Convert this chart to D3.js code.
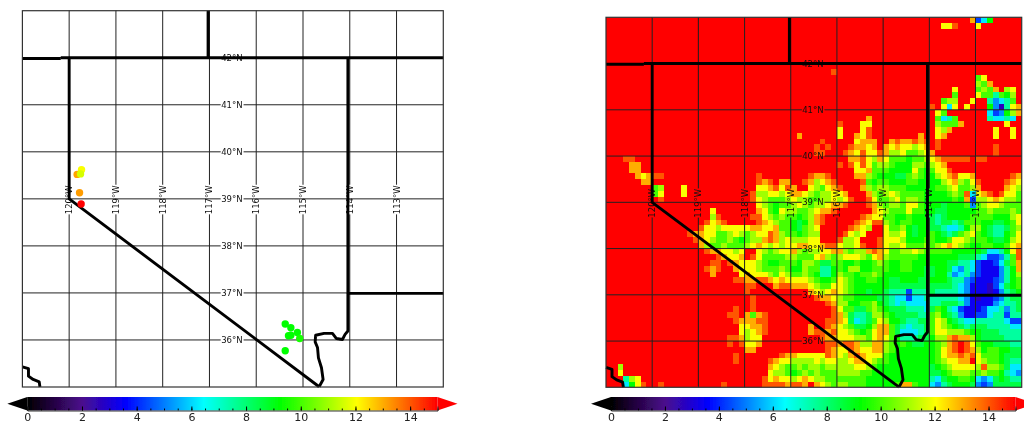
<!DOCTYPE html>
<html>
    <head>
        <meta charset="utf-8">
        <title>Nevada maps</title>
        <script src="https://d3js.org/d3.v7.min.js"></script>
        <style>
            body{ margin: 0; background: #fff; }
            text{ font-family: "DejaVu Sans", sans-serif; }
            .grid{ fill: none; stroke: #222; stroke-width: 1px; }
            .border{ fill: none; stroke: #000; stroke-width: 2.9px; stroke-linejoin: round; }
            .frame{ fill: none; stroke: #333; stroke-width: 1.2px; }
            .maplabel{ font-size: 8.5px; fill: #111; text-anchor: middle; dominant-baseline: central; }
            .cbar text{ font-size: 11px; fill: #222; }
        </style>
    </head>
    <body>
        <script>
            // tick lists
            const lonTicks = [-120, -119, -118, -117, -116, -115, -114, -113];
            const latTicks = [36, 37, 38, 39, 40, 41, 42];
            const cbarTicks = [0, 2, 4, 6, 8, 10, 12, 14];
            const cbarMinor = d3.range(0, 15.5, 0.5);

            // colorbar stops
            const colorStops = [0, 2, 3.6, 6.45, 9.25, 12.05, 15];
            const colorValues = ["#000000", "#4b0a8c", "#0000ff", "#00ffff", "#00ff00", "#ffff00", "#ff0000"];

            // station points of the left map
            const stationLon = [-119.83, -119.736, -119.757, -119.778, -119.744, -115.38, -115.26, -115.12, -115.26, -115.31, -115.07, -115.38];
            const stationLat = [39.52, 39.62, 39.53, 39.13, 38.89, 36.34, 36.26, 36.16, 36.10, 36.09, 36.03, 35.77];
            const stationVal = [13.1, 12.0, 11.6, 13.2, 15, 9.3, 9.3, 9.3, 9.3, 9.3, 9.5, 9.3];

            // state lines and coast, [lon, lat]
            const lineOrCa = [[-121, 41.985], [-120.18, 41.985]];
            const lineNorth = [[-120.18, 42], [-112, 42]];
            const lineOrId = [[-117.03, 43], [-117.03, 42]];
            const lineUtAz = [[-114.04, 36.99], [-112, 36.99]];
            const lineNvEast = [[-114.04, 42], [-114.04, 36.19], [-114.1, 36.12], [-114.157, 36.01], [-114.285, 36.03],
                [-114.37, 36.14], [-114.55, 36.14], [-114.73, 36.1], [-114.74, 35.96], [-114.69, 35.84], [-114.67, 35.62],
                [-114.605, 35.41], [-114.57, 35.16], [-114.655, 35.005]];
            const lineNvWest = [[-120, 42], [-120, 39], [-114.655, 35.005]];
            const lineCoast = [[-121, 35.43], [-120.87, 35.39], [-120.87, 35.23], [-120.77, 35.16], [-120.64, 35.11], [-120.625, 35]];
            const borderLines = [lineOrCa, lineNorth, lineOrId, lineUtAz, lineNvEast, lineNvWest, lineCoast];

            // what each hex digit in rasterRows stands for
            const rasterLevels = [0, 1, 2.7, 3.4, 4.3, 5.2, 6.2, 7.5, 8.5, 9.25, 10, 11, 12, 13, 14, 15];

            // raster of the right map, 1/8 degree cells, 64 rows from 43N, 72 cols from 121W.
            // each row: "startCol:digits", one digit per cell, anything not listed is F
            const rasterRows = [
                "63:D469",
                "58:CCE 64:C",
                "", "", "", "", "", "", "",
                "39:E",
                "64:AC",
                "64:BAD",
                "60:C 64:ABAD 69:BC",
                "60:A 64:CAA7A9B",
                "58:ABB 63:C 66:7567A",
                "56:E 58:C6C 62:C 66:9527CD",
                "57:CA 66:6459BD",
                "45:D 57:A67A 66:76676",
                "40:E 44:CC 57:BAAAD 69:C",
                "40:C 44:CE 57:CBD 67:C 70:C",
                "33:D 40:C 43:DCE 54:D 57:CD 67:C 70:C",
                "37:E 43:CDDD 49:DE 51:DDEDE 57:E",
                "36:E 38:E 42:EDDCD 48:DCD 51:CCBCD 57:E 67:E",
                "36:EE 41:EDCECCEDBBCAABCD 67:E",
                "3:EE 42:DDECBDCAAA9AABCDEEEEE 64:EE",
                "4:DD 40:E 42:ECECABBA999BBABCD",
                "4:DD 43:CCDAAA9999CA9ACCE",
                "5:DCD 8:EE 26:E 35:EDDE 43:DDBA99988ABA99BCDECCD 70:ED",
                "6:DD 26:EDE 30:DD 34:EDBCDE 44:EA9AA999AA9999BCDBACE 69:EDC",
                "8:AB 13:C 26:CCDE 30:CED 35:CBACDE 44:DBABBAAA99999AABCAABD 69:DCB",
                "8:AC 13:C 25:EBBCC 30:BCDDCBABBCCDFFFDBABCBA 52:AAA9999ABAE6CDEFECCA",
                "9:E 25:ECBAA 30:ABCBBAABBCBCEFFECAABCA 52:BBA99999A9D4BBCDCBBA",
                "26:CBA9 30:AABCBABBCDDEFFFEDBABBA 52:CCA9998999A5ABCCBAAA",
                "18:C 26:DCA9 30:CBBAABCDDEFFFFFFDCBAAA 52:CAA998899999AABAAABA",
                "18:BE 25:EECBA 30:BAA9ABDEFFFFFFEDCCAA99 52:A9998789999AAAA999BC",
                "17:ECDE 26:EDCB 30:AA989BDEFFFFFEDCEEBA9A 52:A999878878AAA99889AC",
                "16:ECCBCCCCCDDCCD 30:AA98ABCFFFFFEDCBFFCAAB 52:98998876679BB98778AB",
                "14:EDDCCAABCBABCCED 30:BAA9ABBFFFFECBCFFFCBBC 52:9899A9878ABCA98779AC",
                "15:EDCBAABA9ABBDED 30:BCBBBCCFFFEBBCFFFECCCB 52:999AA99ACCBAAA9889BC",
                "16:DBAABAAABCDCBC 30:BCCDDCCDEECBBCEFFECBBC 52:AAABABCDCBA99AA99ACD",
                "17:EDDCCBCFFCBAB 30:CCDBABBCCDDBABBDEDCAAB 52:BCBAAAAA9999986679CE",
                "19:EDCCDFECAAA 30:ABBAAACDBABCCCBACDBAAA 52:AA9999999888764457AE",
                "18:EEFEDCCCBA99 30:AAA9BBA88AA99A99ABA99A 52:A99999988776433468AD",
                "17:ED 19:E 22:DCCCBAAA 30:BA99BAA779A9BB99AAA99A 52:A998899865764333579D",
                "18:D 23:CDCCCBA 30:CBAABA9779BAA9AABA9999 52:9998899756754333579B",
                "22:EEDDEEDC 30:DCCCCBA99ACBA99AA99889 52:9988999877543334579A",
                "24:EE 29:D 30:EEDDDCBAACCBA999999888 52:8888888876533324689A",
                "24:E 35:DCBCDCBA998998777 52:47778777765333235789",
                "25:E 36:EDDCBAA999988766 52:46677777765323345788",
                "25:E 38:EDBB99AAB98767 52:66667788875333356778",
                "22:E 25:E 39:ECAA88ABA9888 52:77768A97643334667578",
                "21:EE 24:DADE 39:EDB8778BBA988 52:8877AB98753344677477",
                "22:EDDDEE 38:EEDC8678ACB99 51:87788ACB9 60:876677777644",
                "23:CCDDE 35:D 38:EDCBA889BDDA87 52:6778ACBA 60:987888777766",
                "23:CBCDE 35:DEEDECCBA9ACDDA86 52:6678ACCB 60:BBA998887777",
                "21:EEDBCC 37:EDDCCCBBACDCA97 52:77889BBD 60:EDDB98888777",
                "21:E 23:ECCD 38:EEDEEDBBDDBA9A 52:98899ABD 60:EFECA9988877",
                "24:DD 38:EDCCEDCCDDBA99 52:99999ACD 60:EFEDB9AA9988",
                "22:E 30:EDDCCCCCEDCBDEDCCCA999 52:99999ACD 60:DEDECAAA9888",
                "22:E 28:ED 30:CCBBBBCBCCBBCDDCBAA999 52:99999ABC 60:CDDFCBAA9877",
                "2:B 28:DC 30:BAABABBABBBBBCCBA99999 52:999989AB 60:CCCCBEBBA866",
                "2:C 28:CB 30:BA9ABABAAABBBBAA999999 52:9999889A 60:BBBAABAA9765",
                "3:7BC 27:EC 29:DCCBCDCBBAAAAAAA9999999 52:99997689 60:9AA965689877",
                "3:69CE 9:E 20:E 27:EE 29:EEDEEDFDCBABBAAA99999AD 52:DA996578 60:999854588888"
            ];

            const outerWidth = 1024;
            const outerHeight = 425;

            var svg = d3.select("body").append("svg")
                .attr("width", outerWidth)
                .attr("height", outerHeight);

            const colorScale = d3.scaleLinear().domain(colorStops).range(colorValues).clamp(true);

            var defs = svg.append("defs");
            // the reference is a soft, rescaled image
            defs.append("filter").attr("id", "softCells")
                .attr("x", "-2%").attr("y", "-2%").attr("width", "104%").attr("height", "104%")
                .append("feGaussianBlur").attr("stdDeviation", 0.7);
            defs.append("filter").attr("id", "softLines")
                .attr("x", "-2%").attr("y", "-2%").attr("width", "104%").attr("height", "104%")
                .append("feGaussianBlur").attr("stdDeviation", 0.35);

            function parseRaster(rows){
                var cells = [];
                rows.forEach(function (row, r){
                    var line = d3.range(72).map(function (){ return 15; });
                    row.split(" ").forEach(function (part){
                        if(!part) return;
                        var bits = part.split(":");
                        for(var i = 0; i < bits[1].length; i++){
                            line[+bits[0] + i] = rasterLevels[parseInt(bits[1][i], 16)];
                        }
                    });
                    line.forEach(function (v, c){ cells.push({ row: r, col: c, value: v }); });
                });
                return cells;
            }

            function drawGrid(g, x, y){
                var gridLine = d3.line().x(function (d){ return x(d[0]); }).y(function (d){ return y(d[1]); });
                // lines break where the labels sit
                latTicks.forEach(function (lat){
                    g.append("path").attr("class", "grid").attr("d", gridLine([[-121, lat], [-116.76, lat]]));
                    g.append("path").attr("class", "grid").attr("d", gridLine([[-116.27, lat], [-112, lat]]));
                    g.append("text").attr("class", "maplabel")
                        .attr("x", x(-116.52)).attr("y", y(lat))
                        .text(lat + "°N");
                });
                lonTicks.forEach(function (lon){
                    g.append("path").attr("class", "grid").attr("d", gridLine([[lon, 43], [lon, 39.3]]));
                    g.append("path").attr("class", "grid").attr("d", gridLine([[lon, 38.67], [lon, 35]]));
                    g.append("text").attr("class", "maplabel")
                        .attr("transform", "translate(" + x(lon) + "," + y(38.98) + ") rotate(-90)")
                        .text(Math.abs(lon) + "°W");
                });
                borderLines.forEach(function (d){
                    g.append("path").attr("class", "border").attr("d", gridLine(d));
                });
                g.append("rect").attr("class", "frame")
                    .attr("x", x(-121)).attr("y", y(43))
                    .attr("width", x(-112) - x(-121)).attr("height", y(35) - y(43));
            }

            function drawColorbar(left, right, id){
                var cx = d3.scaleLinear().domain([0, 15]).range([left, right]);
                var top = 397, bottom = 410.5, tip = 20;
                var grad = defs.append("linearGradient").attr("id", id);
                grad.selectAll("stop").data(colorStops).enter().append("stop")
                    .attr("offset", function (d){ return d / 15; })
                    .attr("stop-color", function (d){ return colorScale(d); });
                var g = svg.append("g").attr("class", "cbar").attr("filter", "url(#softLines)");
                g.append("path").attr("fill", "#000")
                    .attr("d", "M" + cx(0) + "," + top + "L" + (cx(0) - tip) + "," + (top + bottom) / 2 + "L" + cx(0) + "," + bottom + "Z");
                g.append("path").attr("fill", "#f00")
                    .attr("d", "M" + cx(15) + "," + top + "L" + (cx(15) + tip) + "," + (top + bottom) / 2 + "L" + cx(15) + "," + bottom + "Z");
                g.append("rect").attr("x", cx(0)).attr("y", top)
                    .attr("width", cx(15) - cx(0)).attr("height", bottom - top)
                    .attr("fill", "url(#" + id + ")");
                var minor = g.append("g").attr("transform", "translate(0," + bottom + ")")
                    .call(d3.axisBottom(cx).tickValues(cbarMinor).tickSize(-2).tickFormat(""));
                minor.select(".domain").remove();
                var major = g.append("g").attr("transform", "translate(0," + bottom + ")")
                    .call(d3.axisBottom(cx).tickValues(cbarTicks).tickSize(-4).tickPadding(2.5).tickFormat(d3.format("d")));
                major.select(".domain").attr("stroke", "#333");
                major.selectAll("text").attr("dy", "0.71em");
            }

            // left map: stations
            var xLeft = d3.scaleLinear().domain([-121, -112]).range([22.4, 443.3]);
            var yLeft = d3.scaleLinear().domain([43, 35]).range([10.7, 387]);
            var leftMap = svg.append("g").attr("filter", "url(#softLines)");
            drawGrid(leftMap, xLeft, yLeft);
            leftMap.selectAll("circle").data(stationVal).enter().append("circle")
                .attr("cx", function (d, i){ return xLeft(stationLon[i]); })
                .attr("cy", function (d, i){ return yLeft(stationLat[i]); })
                .attr("r", 3.7)
                .attr("fill", function (d){ return colorScale(d); });

            // right map: raster
            var xRight = d3.scaleLinear().domain([-121, -112]).range([606, 1021.7]);
            var yRight = d3.scaleLinear().domain([43, 35]).range([17.3, 387.3]);
            defs.append("clipPath").attr("id", "rightClip").append("rect")
                .attr("x", xRight(-121)).attr("y", yRight(43))
                .attr("width", xRight(-112) - xRight(-121)).attr("height", yRight(35) - yRight(43));
            var rightMap = svg.append("g");
            rightMap.append("g").attr("clip-path", "url(#rightClip)")
                .append("g").attr("filter", "url(#softCells)")
                .selectAll("rect").data(parseRaster(rasterRows)).enter().append("rect")
                .attr("shape-rendering", "crispEdges")
                .attr("x", function (d){ return xRight(-121 + d.col / 8); })
                .attr("y", function (d){ return yRight(43 - d.row / 8); })
                .attr("width", xRight(-120.875) - xRight(-121) + 0.5)
                .attr("height", yRight(42.875) - yRight(43) + 0.5)
                .attr("fill", function (d){ return colorScale(d.value); });
            var rightLines = rightMap.append("g").attr("filter", "url(#softLines)");
            drawGrid(rightLines, xRight, yRight);

            drawColorbar(27.3, 437.5, "cbarLeft");
            drawColorbar(611, 1015.5, "cbarRight");
        </script>
    </body>
</html>
